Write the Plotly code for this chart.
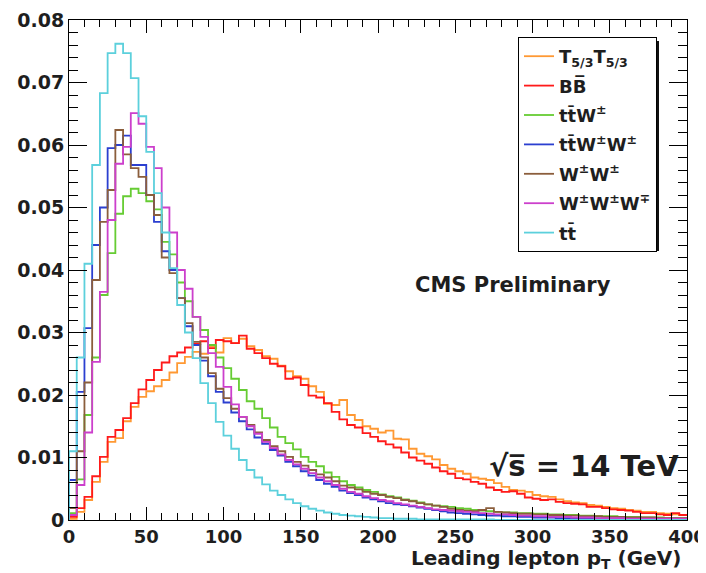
import numpy as np
import plotly.graph_objects as go

# ---------------- data (5 GeV bins, 0-400 GeV) ----------------
bin_edges = list(range(0, 405, 5))

t53 = [0.0002, 0.0013, 0.0032, 0.0061, 0.0093, 0.0125, 0.0131, 0.0158, 0.0181, 0.0197,
       0.0206, 0.0214, 0.0224, 0.0236, 0.0251, 0.0261, 0.0269, 0.0266, 0.0278, 0.0268,
       0.0291, 0.0283, 0.0290, 0.0278, 0.0272, 0.0262, 0.0258, 0.0247, 0.0238, 0.0230,
       0.0226, 0.0214, 0.0205, 0.0186, 0.0184, 0.0192, 0.0168, 0.0160, 0.0150, 0.0146,
       0.0140, 0.0143, 0.0130, 0.0129, 0.0114, 0.0106, 0.0102, 0.0097, 0.0088, 0.0082,
       0.0078, 0.0074, 0.0068, 0.0066, 0.0064, 0.0059, 0.0053, 0.0048, 0.0047, 0.0045,
       0.0040, 0.0038, 0.0037, 0.0033, 0.0030, 0.0028, 0.0027, 0.0024, 0.0023, 0.0021,
       0.0019, 0.0018, 0.0016, 0.0015, 0.0013, 0.0013, 0.0011, 0.0010, 0.0009, 0.0008]

bb = [0.0005, 0.0019, 0.0037, 0.0070, 0.0101, 0.0133, 0.0144, 0.0163, 0.0187, 0.0209,
      0.0224, 0.0240, 0.0252, 0.0262, 0.0268, 0.0276, 0.0282, 0.0286, 0.0275, 0.0288,
      0.0286, 0.0283, 0.0295, 0.0274, 0.0267, 0.0259, 0.0250, 0.0246, 0.0226, 0.0228,
      0.0216, 0.0199, 0.0196, 0.0187, 0.0173, 0.0161, 0.0152, 0.0148, 0.0139, 0.0133,
      0.0126, 0.0121, 0.0116, 0.0108, 0.0100, 0.0095, 0.0090, 0.0084, 0.0078, 0.0074,
      0.0067, 0.0065, 0.0061, 0.0058, 0.0052, 0.0048, 0.0045, 0.0046, 0.0042, 0.0036,
      0.0034, 0.0032, 0.0033, 0.0029, 0.0027, 0.0026, 0.0025, 0.0021, 0.0021, 0.0019,
      0.0017, 0.0016, 0.0015, 0.0013, 0.0011, 0.0011, 0.0009, 0.0008, 0.0011, 0.0008]

ttw = [0.0011, 0.0065, 0.0168, 0.0260, 0.0360, 0.0427, 0.0490, 0.0518, 0.0530, 0.0523,
       0.0510, 0.0497, 0.0445, 0.0425, 0.0380, 0.0350, 0.0325, 0.0304, 0.0280, 0.0260,
       0.0243, 0.0226, 0.0208, 0.0190, 0.0178, 0.0163, 0.0148, 0.0133, 0.0123, 0.0113,
       0.0101, 0.0093, 0.0086, 0.0076, 0.0069, 0.0062, 0.0056, 0.0052, 0.0048, 0.0045,
       0.0041, 0.0038, 0.0036, 0.0033, 0.0031, 0.0028, 0.0025, 0.0023, 0.0022, 0.0021,
       0.0019, 0.0018, 0.0016, 0.0015, 0.0014, 0.0013, 0.0012, 0.0012, 0.0011, 0.0011,
       0.0010, 0.0010, 0.0009, 0.0009, 0.0008, 0.0008, 0.0007, 0.0007, 0.0006, 0.0006,
       0.0006, 0.0005, 0.0005, 0.0005, 0.0004, 0.0004, 0.0004, 0.0003, 0.0003, 0.0003]

ttww = [0.0064, 0.0205, 0.0307, 0.0440, 0.0500, 0.0595, 0.0600, 0.0615, 0.0568, 0.0568,
        0.0520, 0.0477, 0.0430, 0.0400, 0.0355, 0.0310, 0.0280, 0.0255, 0.0230, 0.0205,
        0.0188, 0.0172, 0.0158, 0.0145, 0.0132, 0.0122, 0.0112, 0.0103, 0.0093, 0.0086,
        0.0078, 0.0071, 0.0064, 0.0058, 0.0053, 0.0047, 0.0043, 0.0040, 0.0036, 0.0033,
        0.0030, 0.0027, 0.0025, 0.0024, 0.0022, 0.0020, 0.0018, 0.0016, 0.0014, 0.0012,
        0.0011, 0.0010, 0.0009, 0.0008, 0.0007, 0.0007, 0.0006, 0.0006, 0.0005, 0.0005,
        0.0004, 0.0004, 0.0004, 0.0003, 0.0003, 0.0003, 0.0003, 0.0002, 0.0002, 0.0002,
        0.0002, 0.0002, 0.0001, 0.0001, 0.0001, 0.0001, 0.0001, 0.0001, 0.0001, 0.0001]

ww = [0.0019, 0.0110, 0.0220, 0.0384, 0.0477, 0.0528, 0.0624, 0.0585, 0.0563, 0.0549,
      0.0520, 0.0488, 0.0420, 0.0395, 0.0355, 0.0315, 0.0285, 0.0260, 0.0235, 0.0210,
      0.0195, 0.0178, 0.0165, 0.0152, 0.0140, 0.0128, 0.0118, 0.0110, 0.0101, 0.0093,
      0.0087, 0.0080, 0.0073, 0.0068, 0.0062, 0.0055, 0.0052, 0.0049, 0.0045, 0.0042,
      0.0040, 0.0037, 0.0035, 0.0032, 0.0030, 0.0027, 0.0025, 0.0023, 0.0021, 0.0018,
      0.0016, 0.0015, 0.0014, 0.0016, 0.0019, 0.0013, 0.0012, 0.0011, 0.0010, 0.0010,
      0.0009, 0.0009, 0.0008, 0.0008, 0.0007, 0.0007, 0.0006, 0.0006, 0.0006, 0.0005,
      0.0005, 0.0005, 0.0004, 0.0004, 0.0004, 0.0004, 0.0003, 0.0003, 0.0003, 0.0003]

www = [0.0008, 0.0056, 0.0140, 0.0253, 0.0365, 0.0480, 0.0570, 0.0597, 0.0651, 0.0634,
       0.0597, 0.0563, 0.0500, 0.0460, 0.0400, 0.0370, 0.0325, 0.0293, 0.0267, 0.0245,
       0.0213, 0.0185, 0.0165, 0.0150, 0.0138, 0.0125, 0.0115, 0.0105, 0.0096, 0.0089,
       0.0082, 0.0075, 0.0068, 0.0062, 0.0056, 0.0050, 0.0045, 0.0042, 0.0038, 0.0035,
       0.0032, 0.0030, 0.0027, 0.0025, 0.0023, 0.0021, 0.0019, 0.0017, 0.0016, 0.0015,
       0.0014, 0.0013, 0.0012, 0.0011, 0.0010, 0.0009, 0.0009, 0.0008, 0.0007, 0.0007,
       0.0006, 0.0006, 0.0005, 0.0005, 0.0005, 0.0004, 0.0004, 0.0004, 0.0003, 0.0003,
       0.0003, 0.0003, 0.0002, 0.0002, 0.0002, 0.0002, 0.0002, 0.0002, 0.0002, 0.0002]

tt = [0.0110, 0.0260, 0.0410, 0.0568, 0.0683, 0.0747, 0.0762, 0.0747, 0.0707, 0.0646,
      0.0589, 0.0523, 0.0460, 0.0403, 0.0344, 0.0300, 0.0259, 0.0219, 0.0187, 0.0157,
      0.0135, 0.0114, 0.0096, 0.0080, 0.0068, 0.0057, 0.0047, 0.0040, 0.0033, 0.0027,
      0.0022, 0.0018, 0.0015, 0.0012, 0.0010, 0.0008, 0.0007, 0.0006, 0.0005, 0.0004,
      0.0003, 0.0003, 0.0002, 0.0002, 0.0002, 0.0001, 0.0001, 0.0001, 0.0001, 0.0001,
      0.0001, 0.0001, 0.0001, 0.0001, 0.0001, 0.0, 0.0, 0.0, 0.0, 0.0,
      0.0, 0.0, 0.0, 0.0, 0.0, 0.0, 0.0, 0.0, 0.0, 0.0,
      0.0, 0.0, 0.0, 0.0, 0.0, 0.0, 0.0, 0.0, 0.0, 0.0]

series_names = ["T<sub>5/3</sub>T<sub>5/3</sub>", "BB\u0305", "tt\u0304W<sup>\u00b1</sup>",
                "tt\u0304W<sup>\u00b1</sup>W<sup>\u00b1</sup>", "W<sup>\u00b1</sup>W<sup>\u00b1</sup>",
                "W<sup>\u00b1</sup>W<sup>\u00b1</sup>W<sup>\u2213</sup>", "tt\u0304"]
series_values = [t53, bb, ttw, ttww, ww, www, tt]
series_colors = ["#ff9933", "#ff1a1a", "#66cc33", "#2b3fd0", "#8b5e3c", "#cc3fcc", "#5cd0dc"]

x_ticks = [0, 50, 100, 150, 200, 250, 300, 350, 400]
x_ticklabels = ["0", "50", "100", "150", "200", "250", "300", "350", "400"]
y_ticks = [0, 0.01, 0.02, 0.03, 0.04, 0.05, 0.06, 0.07, 0.08]
y_ticklabels = ["0", "0.01", "0.02", "0.03", "0.04", "0.05", "0.06", "0.07", "0.08"]

FONT = "DejaVu Sans"
TXT = "#1e1e1e"

fig = go.Figure()
for name, vals, col in zip(series_names, series_values, series_colors):
    xs = [bin_edges[0]] + bin_edges
    ys = [0.0] + list(vals) + [vals[-1]]
    fig.add_trace(go.Scatter(x=xs, y=ys, mode="lines", name=name, legendgroup=name,
                             line=dict(color=col, width=1.8, shape="hv"),
                             hoverinfo="skip"))

# the page body has an 8px margin: the figure is sized/offset to compensate
BODY = 8
W, H = 706 - BODY, 573 - BODY
PX0, PX1, PY0, PY1 = 69, 687, 20, 520   # plot area in page pixels
ml, mr, mt, mb = PX0 - BODY, W + BODY - PX1, PY0 - BODY, H + BODY - PY1

def px2paper_x(px):
    return (px - PX0) / (PX1 - PX0)

def px2paper_y(py):
    return (PY1 - py) / (PY1 - PY0)

fig.update_layout(
    width=W, height=H,
    margin=dict(l=ml, r=mr, t=mt, b=mb, autoexpand=False),
    paper_bgcolor="white", plot_bgcolor="white",
    showlegend=True,
    legend=dict(x=px2paper_x(518), y=px2paper_y(37), xanchor="left", yanchor="top",
                bgcolor="white", bordercolor="black", borderwidth=1,
                font=dict(family=FONT, size=18, color=TXT, weight="bold"),
                tracegroupgap=3, itemwidth=30, traceorder="grouped"),
    xaxis=dict(range=[0, 400], tickmode="array", tickvals=x_ticks, ticktext=x_ticklabels,
               ticks="inside", ticklen=13, tickwidth=1, tickcolor="black",
               minor=dict(tickmode="linear", tick0=0, dtick=10, ticks="inside", ticklen=7,
                          tickwidth=1, tickcolor="black"),
               showline=True, linecolor="black", linewidth=1, mirror="allticks",
               showgrid=False, zeroline=False, automargin=False, ticklabeloverflow="allow",
               tickfont=dict(family=FONT, size=18, color=TXT, weight="bold")),
    yaxis=dict(range=[0, 0.08], tickmode="array", tickvals=y_ticks, ticktext=y_ticklabels,
               ticks="inside", ticklen=18, tickwidth=1, tickcolor="black",
               minor=dict(tickmode="linear", tick0=0, dtick=0.002, ticks="inside", ticklen=9,
                          tickwidth=1, tickcolor="black"),
               showline=True, linecolor="black", linewidth=1, mirror="allticks",
               showgrid=False, zeroline=False, automargin=False, ticklabeloverflow="allow",
               tickfont=dict(family=FONT, size=19, color=TXT, weight="bold")),
)

# legend shadow (drop shadow to the right and below the legend box)
fig.add_shape(type="rect", xref="paper", yref="paper",
              x0=px2paper_x(522), x1=px2paper_x(659), y0=px2paper_y(251), y1=px2paper_y(41),
              fillcolor="#111", line=dict(width=0), layer="above")

fig.add_annotation(text="CMS Preliminary", xref="paper", yref="paper",
                   x=px2paper_x(413), y=px2paper_y(285), xanchor="left", yanchor="middle",
                   showarrow=False, font=dict(family=FONT, size=21, color=TXT, weight="bold"))
fig.add_annotation(text="\u221as\u0305 = 14 TeV", xref="paper", yref="paper",
                   x=px2paper_x(487), y=px2paper_y(466), xanchor="left", yanchor="middle",
                   showarrow=False, font=dict(family=FONT, size=29, color=TXT, weight="bold"))
fig.add_annotation(text="Leading lepton p<sub>T</sub> (GeV)", xref="paper", yref="paper",
                   x=px2paper_x(683), y=px2paper_y(559), xanchor="right", yanchor="middle",
                   showarrow=False, font=dict(family=FONT, size=20, color=TXT, weight="bold"))

fig.write_html("out.html")
